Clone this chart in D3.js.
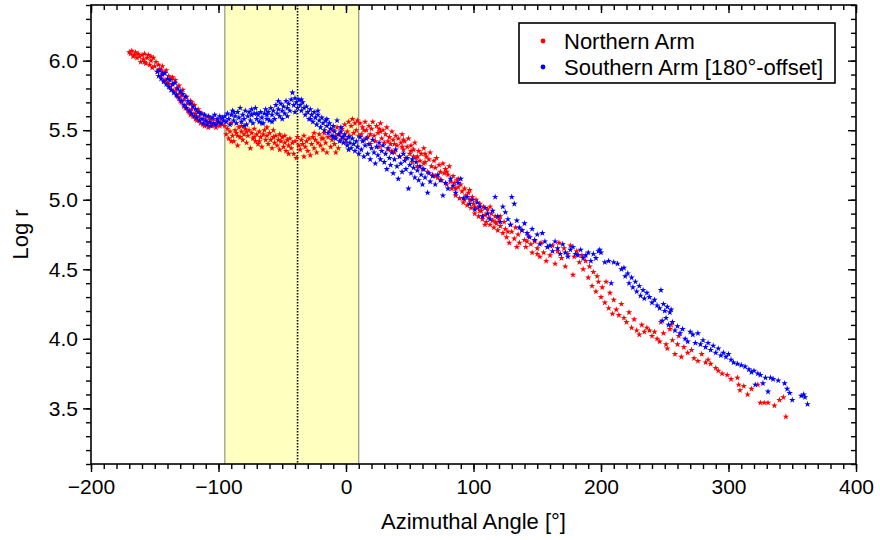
<!DOCTYPE html>
<html>
<head>
<meta charset="utf-8">
<script src="https://cdn.jsdelivr.net/npm/d3@7"></script>
<style>
  html, body { margin: 0; padding: 0; background: #fff; }
  svg { display: block; }
  text { font-family: "Liberation Sans", Arial, Helvetica, sans-serif; fill: #000; }
</style>
</head>
<body>
<svg id="chart" width="880" height="540"></svg>
<script>
// ---------------- DATA ----------------
const seriesNames = ["Northern Arm", "Southern Arm [180°-offset]"];
const seriesColors = ["#ff0000", "#0000ff"];
const xTicks = [-200, -100, 0, 100, 200, 300, 400];
const yTicks = [3.5, 4.0, 4.5, 5.0, 5.5, 6.0];
const xDomain = [-200, 400];
const yDomain = [3.1, 6.4];
const bandRange = [-95, 10];
const dottedLineX = -38;

// Northern Arm: [azimuthal angle, log r]
const northern = [
[-170,6.06],[-169,6.05],[-168,6.07],[-166,6.04],[-165,6.06],[-164,6.02],[-163,6.05],[-162,6.03],[-161,5.99],[-160,6.04],
[-159,6.01],[-158,6.05],[-157,5.98],[-156,6.02],[-155,6.04],[-154,5.97],[-153,6.00],[-152,5.95],[-151,6.02],[-150,5.96],
[-149,5.99],[-148,5.92],[-147,5.97],[-146,5.94],[-145,5.89],[-144,5.96],[-143,5.91],[-142,5.86],[-141,5.93],[-140,5.84],
[-139,5.89],[-138,5.81],[-137,5.87],[-136,5.83],[-135,5.78],[-134,5.86],[-133,5.80],[-132,5.74],[-131,5.82],[-130,5.77],
[-129,5.70],[-128,5.79],[-127,5.72],[-126,5.66],[-125,5.74],[-124,5.69],[-123,5.63],[-122,5.71],[-121,5.65],[-120,5.60],
[-119,5.68],[-118,5.62],[-117,5.57],[-116,5.65],[-115,5.60],[-114,5.55],[-113,5.62],[-112,5.58],[-111,5.53],[-110,5.60],
[-109,5.56],[-108,5.52],[-107,5.59],[-106,5.55],[-105,5.53],[-104,5.58],[-103,5.54],[-102,5.52],[-101,5.57],[-100,5.55],
[-99,5.53],[-98,5.58],[-97,5.54],
[-167,6.03],[-158,5.99],[-153,6.03],[-147,5.93],[-143,5.85],[-139,5.83],[-136,5.88],[-133,5.76],[-130,5.71],[-127,5.67],
[-124,5.64],[-121,5.70],[-118,5.58],[-115,5.63],[-144,5.92],[-137,5.79],[-129,5.75],[-122,5.61],[-112,5.54],[-106,5.58],
[-95,5.53],[-94,5.47],[-93,5.51],[-92,5.44],[-91,5.49],[-90,5.55],[-89,5.46],[-88,5.42],[-87,5.50],[-86,5.48],
[-85,5.39],[-84,5.52],[-83,5.45],[-82,5.49],[-81,5.43],[-80,5.47],[-79,5.51],[-78,5.41],[-77,5.46],[-76,5.50],
[-75,5.37],[-74,5.48],[-73,5.44],[-72,5.51],[-71,5.42],[-70,5.47],[-69,5.40],[-68,5.49],[-67,5.45],[-66,5.38],
[-65,5.47],[-64,5.50],[-63,5.43],[-62,5.46],[-61,5.40],[-60,5.48],[-59,5.43],[-58,5.37],[-57,5.45],[-56,5.41],
[-55,5.46],[-54,5.39],[-53,5.43],[-52,5.36],[-51,5.42],[-50,5.45],[-49,5.38],[-48,5.41],[-47,5.35],[-46,5.43],
[-45,5.39],[-44,5.44],[-43,5.37],[-42,5.41],[-41,5.33],[-40,5.42],[-39,5.30],[-38,5.45],[-37,5.39],[-36,5.36],
[-35,5.43],[-34,5.40],[-33,5.46],[-32,5.38],[-31,5.42],[-30,5.35],[-29,5.44],[-28,5.32],[-27,5.40],[-26,5.45],
[-25,5.37],[-24,5.43],[-23,5.34],[-22,5.41],[-21,5.47],[-20,5.39],[-19,5.44],[-18,5.36],[-17,5.48],[-16,5.41],
[-15,5.34],[-14,5.45],[-13,5.49],[-12,5.38],[-11,5.43],[-10,5.50],[-9,5.40],[-8,5.46],[-7,5.52],[-6,5.37],
[-5,5.47],[-4,5.43],[-3,5.51],[-2,5.45],[-1,5.54],[0,5.41],[1,5.49],[2,5.56],[3,5.46],[4,5.53],
[5,5.58],[6,5.48],[7,5.55],[8,5.50],[9,5.57],[10,5.46],
[-90,5.42],[-82,5.53],[-72,5.45],[-62,5.52],[-52,5.47],[-45,5.33],[-33,5.31],[-25,5.48],[-18,5.44],[-8,5.34],
[-85,5.46],[-78,5.49],[-68,5.42],[-57,5.50],[-48,5.46],
[11,5.55],[12,5.47],[13,5.52],[14,5.43],[15,5.56],[16,5.50],[17,5.45],[18,5.53],[19,5.40],[20,5.51],
[21,5.56],[22,5.46],[23,5.42],[24,5.53],[25,5.48],[26,5.38],[27,5.55],[28,5.44],[29,5.50],[30,5.41],
[31,5.47],[32,5.52],[33,5.36],[34,5.45],[35,5.40],[36,5.49],[37,5.43],[38,5.34],[39,5.46],[40,5.39],
[41,5.44],[42,5.31],[43,5.41],[44,5.47],[45,5.36],[46,5.42],[47,5.30],[48,5.38],[49,5.44],[50,5.33],
[51,5.39],[52,5.27],[53,5.36],[54,5.41],[55,5.30],[56,5.24],[57,5.35],[58,5.28],[59,5.33],[60,5.22],
[61,5.37],[62,5.27],[63,5.31],[64,5.20],[65,5.29],[66,5.34],[67,5.24],[68,5.18],[69,5.28],[70,5.23],
[71,5.30],[72,5.16],[73,5.25],[74,5.20],[75,5.14],[76,5.26],[77,5.19],[78,5.22],[79,5.11],[80,5.18],
[81,5.24],[82,5.13],[83,5.08],[84,5.17],[85,5.12],[86,5.03],[87,5.14],[88,5.09],[89,5.01],[90,5.11],
[91,5.06],[92,4.98],[93,5.08],[94,5.03],[95,4.96],[96,5.05],[97,5.00],[98,4.94],[99,5.02],[100,4.97],
[101,4.90],[102,5.00],[103,4.94],[104,4.88],[105,4.97],[106,4.92],[107,4.86],[108,4.95],[109,4.89],[110,4.84],
[111,4.93],[112,4.87],[113,4.82],[114,4.90],[115,4.85],[116,4.80],[117,4.88],[118,4.83],[119,4.78],[120,4.86],
[121,4.81],[123,4.76],[124,4.84],[125,4.79],[126,4.73],[128,4.69],[129,4.82],[130,4.77],[132,4.72],[133,4.80],
[135,4.75],[136,4.69],[138,4.78],[140,4.71],[141,4.66],[143,4.74],[145,4.68],[146,4.62],[148,4.70],[150,4.65],
[152,4.59],[153,4.69],[155,4.62],[157,4.56],[158,4.66],[160,4.60],[162,4.67],[164,4.54],[166,4.63],[167,4.69],
[169,4.58],[171,4.65],[172,4.52],[174,4.61],[176,4.67],[178,4.46],[179,4.59],[181,4.63],[183,4.55],[185,4.60],
[186,4.50],[188,4.56],[190,4.44],[191,4.52],[193,4.38],[194,4.48],[196,4.34],[197,4.45],[198,4.41],[200,4.30],
[201,4.37],[203,4.26],[204,4.41],[206,4.22],[207,4.33],[209,4.18],[210,4.28],[212,4.21],[214,4.17],[216,4.25],
[218,4.15],[220,4.12],[222,4.19],[224,4.08],[226,4.14],[228,4.06],[230,4.03],[232,4.10],[234,4.05],[236,4.08],
[238,4.06],[240,4.02],[242,4.05],[244,4.00],[246,3.98],[247,4.12],[249,4.04],[251,3.96],[252,3.93],[254,4.07],
[255,4.10],[256,3.99],[258,3.89],[260,3.96],[261,4.02],[263,3.87],[265,3.94],[268,3.90],[271,3.92],[273,3.86],
[276,3.84],[279,3.89],[282,3.83],[284,3.85],[286,3.82],[290,3.79],[292,3.77],[295,3.75],[299,3.74],[302,3.71],
[307,3.72],[308,3.67],[309,3.63],[312,3.66],[315,3.60],[318,3.64],[323,3.67],[325,3.54],[328,3.54],[331,3.54],
[336,3.52],[340,3.56],[343,3.58],[345,3.44],
[14,5.50],[19,5.47],[26,5.51],[33,5.42],[38,5.40],[44,5.38],[51,5.35],[56,5.31],[61,5.26],[27,5.49],
[36,5.35],[45,5.43],[53,5.31],[62,5.33],[70,5.17],[79,5.20],[88,5.15],[97,5.07],[105,4.92],[113,4.95],
[121,4.88],[86,5.08],[93,5.00],[101,4.95],[109,4.82],[117,4.84],[127,4.77],[134,4.66],[142,4.70],[150,4.61]
];

// Southern Arm (180° offset): [azimuthal angle, log r]
const southern = [
[-148,5.92],[-147,5.89],[-146,5.93],[-145,5.87],[-144,5.90],[-143,5.85],[-142,5.91],[-141,5.83],[-140,5.87],[-139,5.81],
[-138,5.86],[-137,5.79],[-136,5.83],[-135,5.77],[-134,5.84],[-133,5.75],[-132,5.80],[-131,5.73],[-130,5.78],[-129,5.71],
[-128,5.76],[-127,5.68],[-126,5.74],[-125,5.66],[-124,5.71],[-123,5.64],[-122,5.69],[-121,5.62],[-120,5.67],[-119,5.60],
[-118,5.65],[-117,5.59],[-116,5.63],[-115,5.57],[-114,5.62],[-113,5.58],[-112,5.55],[-111,5.61],[-110,5.57],[-109,5.54],
[-108,5.60],[-107,5.56],[-106,5.53],[-105,5.59],[-104,5.55],[-103,5.61],[-102,5.54],[-101,5.58],[-100,5.56],[-99,5.60],
[-98,5.55],[-97,5.59],[-96,5.57],
[-95,5.60],[-94,5.56],[-93,5.62],[-92,5.58],[-91,5.54],[-90,5.61],[-89,5.64],[-88,5.57],[-87,5.60],[-86,5.55],
[-85,5.63],[-84,5.59],[-83,5.66],[-82,5.56],[-81,5.61],[-80,5.58],[-79,5.64],[-78,5.54],[-77,5.60],[-76,5.63],
[-75,5.57],[-74,5.61],[-73,5.55],[-72,5.62],[-71,5.66],[-70,5.58],[-69,5.61],[-68,5.56],[-67,5.63],[-66,5.59],
[-65,5.55],[-64,5.62],[-63,5.65],[-62,5.58],[-61,5.63],[-60,5.57],[-59,5.66],[-58,5.61],[-57,5.64],[-56,5.58],
[-55,5.68],[-54,5.62],[-53,5.65],[-52,5.60],[-51,5.69],[-50,5.64],[-49,5.67],[-48,5.62],[-47,5.71],[-46,5.66],
[-45,5.69],[-44,5.64],[-43,5.72],[-42,5.77],[-41,5.68],[-40,5.73],[-39,5.70],[-38,5.66],[-37,5.72],[-36,5.68],
[-35,5.64],[-34,5.70],[-33,5.66],[-32,5.61],[-31,5.67],[-30,5.63],[-29,5.58],[-28,5.65],[-27,5.61],[-26,5.56],
[-25,5.63],[-24,5.59],[-23,5.54],[-22,5.61],[-21,5.57],[-20,5.52],[-19,5.59],[-18,5.55],[-17,5.50],[-16,5.57],
[-15,5.53],[-14,5.48],[-13,5.55],[-12,5.51],[-11,5.46],[-10,5.53],[-9,5.49],[-8,5.44],[-7,5.57],[-6,5.47],
[-5,5.42],[-4,5.49],[-3,5.45],[-2,5.41],[-1,5.47],[0,5.43],[1,5.39],[2,5.45],[3,5.41],[4,5.37],
[5,5.44],[6,5.40],[7,5.35],[8,5.42],[9,5.38],[10,5.33],
[-88,5.63],[-80,5.53],[-74,5.65],[-66,5.55],[-58,5.56],[-53,5.71],[-46,5.60],[-40,5.63],[-35,5.72],[-28,5.58],
[-22,5.64],[-15,5.58],[-10,5.45],[-4,5.52],[2,5.36],[-70,5.62],[-62,5.61],[-50,5.58],
[11,5.45],[12,5.36],[13,5.42],[14,5.31],[15,5.39],[16,5.44],[17,5.33],[18,5.40],[19,5.29],[20,5.37],
[21,5.43],[22,5.34],[23,5.26],[24,5.38],[25,5.32],[26,5.41],[27,5.29],[28,5.35],[29,5.39],[30,5.27],
[31,5.33],[32,5.22],[33,5.37],[34,5.30],[35,5.25],[36,5.34],[37,5.19],[38,5.29],[39,5.36],[40,5.24],
[41,5.15],[42,5.31],[43,5.26],[44,5.20],[45,5.33],[46,5.28],[47,5.22],[48,5.30],[49,5.08],[50,5.25],
[51,5.19],[52,5.29],[53,5.23],[54,5.16],[55,5.27],[56,5.21],[57,5.14],[58,5.24],[59,5.18],[60,5.11],
[61,5.22],[62,5.16],[64,5.05],[65,5.19],[66,5.13],[68,5.17],[70,5.11],[72,5.18],[74,5.14],[76,5.03],
[78,5.12],[80,5.08],[82,5.15],[84,5.10],[86,5.05],[88,5.12],[90,5.15],[92,5.01],[95,5.02],[97,4.97],
[99,5.00],[101,4.93],[103,4.98],[105,4.95],[107,4.88],[109,4.94],[111,4.90],[113,4.86],[115,4.92],[117,5.02],
[119,4.88],[121,4.84],[123,4.95],[125,4.91],[127,4.86],[129,4.82],[130,5.02],[132,4.97],[134,4.85],[136,4.80],
[138,4.78],[140,4.83],[142,4.76],[144,4.73],[146,4.79],[148,4.71],[150,4.75],[152,4.68],[154,4.76],[156,4.70],
[158,4.66],[160,4.67],[162,4.63],[164,4.70],[166,4.65],[168,4.61],[170,4.68],[172,4.62],[174,4.59],[176,4.64],
[178,4.66],[180,4.61],[182,4.60],[184,4.64],[186,4.58],[188,4.60],[190,4.62],[192,4.56],[194,4.61],[196,4.58],
[198,4.63],[199,4.64],[200,4.62],
[203,4.55],[206,4.56],[208,4.40],[210,4.55],[213,4.54],[216,4.50],[218,4.51],[219,4.45],[221,4.47],[222,4.40],
[224,4.44],[225,4.37],[227,4.41],[228,4.34],[230,4.38],[231,4.31],[233,4.35],[234,4.29],[236,4.33],[238,4.30],
[240,4.26],[242,4.28],[244,4.24],[246,4.22],[247,4.35],[249,4.25],[250,4.20],[252,4.23],[254,4.19],[255,4.21],
[248,4.13],[251,4.15],[253,4.10],[256,4.12],[258,4.06],[260,4.09],[262,4.04],[264,4.07],[266,4.00],[268,3.98],
[270,4.05],[272,4.03],[274,3.97],[276,4.04],[278,3.96],[280,3.99],[282,3.94],[284,3.97],[286,3.92],[288,3.95],
[290,3.90],[292,3.93],[294,3.88],[296,3.90],[298,3.87],[300,3.89],[302,3.85],[304,3.83],[307,3.82],[310,3.81],
[313,3.80],[316,3.78],[318,3.76],[320,3.77],[321,3.67],[323,3.75],[325,3.74],[327,3.68],[329,3.72],[331,3.62],
[333,3.72],[335,3.71],[339,3.70],[344,3.68],[346,3.64],[348,3.61],[350,3.56],[357,3.59],[359,3.60],[362,3.53],
[360,3.58]
];

// ---------------- CHART ----------------
const svg = d3.select("#chart");
const margin = { left: 91, right: 24, top: 5, bottom: 76 };
const W = 880, H = 540;
const x = d3.scaleLinear().domain(xDomain).range([margin.left, W - margin.right]);
const y = d3.scaleLinear().domain(yDomain).range([H - margin.bottom, margin.top]);
const x0 = x.range()[0], x1 = x.range()[1], y0 = y.range()[1], y1 = y.range()[0];

// shaded band
svg.append("rect")
  .attr("x", x(bandRange[0])).attr("y", y0)
  .attr("width", x(bandRange[1]) - x(bandRange[0])).attr("height", y1 - y0)
  .attr("fill", "#ffffc0");
svg.selectAll("line.band").data(bandRange).join("line")
  .attr("class", "band")
  .attr("x1", d => x(d)).attr("x2", d => x(d)).attr("y1", y0).attr("y2", y1)
  .attr("stroke", "#7d7d6a").attr("stroke-width", 1);
svg.append("line")
  .attr("x1", x(dottedLineX)).attr("x2", x(dottedLineX)).attr("y1", y0).attr("y2", y1)
  .attr("stroke", "#000").attr("stroke-width", 1.6).attr("stroke-dasharray", "1.6,1.4");

// points
const star = d3.symbol().type(d3.symbolStar).size(13);
[northern, southern].forEach((data, i) => {
  svg.append("g").selectAll("path").data(data).join("path")
    .attr("d", star)
    .attr("transform", d => `translate(${x(d[0])},${y(d[1])})`)
    .attr("fill", seriesColors[i]);
});

// axes
const xMinor = d3.range(xDomain[0], xDomain[1] + 0.001, 10);
const yMinor = d3.range(31, 65).map(v => v / 10);
function styleAxis(g) {
  g.select(".domain").remove();
  g.selectAll(".tick line").attr("stroke", "#000").attr("stroke-width", 1.4);
  g.selectAll("text").style("font-size", "21px").attr("fill", "#000");
}
const fmtX = d3.format("d");
const fmtY = d3.format(".1f");
// bottom
svg.append("g").attr("transform", `translate(0,${y1})`)
  .call(d3.axisBottom(x).tickValues(xMinor).tickSize(5).tickFormat(""))
  .call(styleAxis);
svg.append("g").attr("transform", `translate(0,${y1})`)
  .call(d3.axisBottom(x).tickValues(xTicks).tickSize(8).tickPadding(7).tickFormat(d => fmtX(d).replace("-", "\u2212")))
  .call(styleAxis);
// top (ticks point inward)
svg.append("g").attr("transform", `translate(0,${y0})`)
  .call(d3.axisBottom(x).tickValues(xMinor).tickSize(5).tickFormat(""))
  .call(styleAxis);
svg.append("g").attr("transform", `translate(0,${y0})`)
  .call(d3.axisBottom(x).tickValues(xTicks).tickSize(8).tickFormat(""))
  .call(styleAxis);
// left
svg.append("g").attr("transform", `translate(${x0},0)`)
  .call(d3.axisLeft(y).tickValues(yMinor).tickSize(5).tickFormat(""))
  .call(styleAxis);
svg.append("g").attr("transform", `translate(${x0},0)`)
  .call(d3.axisLeft(y).tickValues(yTicks).tickSize(8).tickPadding(5).tickFormat(fmtY))
  .call(styleAxis);
// right (ticks point inward)
svg.append("g").attr("transform", `translate(${x1},0)`)
  .call(d3.axisLeft(y).tickValues(yMinor).tickSize(5).tickFormat(""))
  .call(styleAxis);
svg.append("g").attr("transform", `translate(${x1},0)`)
  .call(d3.axisLeft(y).tickValues(yTicks).tickSize(8).tickFormat(""))
  .call(styleAxis);

// frame
svg.append("rect")
  .attr("x", x0).attr("y", y0).attr("width", x1 - x0).attr("height", y1 - y0)
  .attr("fill", "none").attr("stroke", "#000").attr("stroke-width", 1.6);

// axis titles
svg.append("text")
  .attr("x", (x0 + x1) / 2).attr("y", 529)
  .attr("text-anchor", "middle").style("font-size", "22px")
  .text("Azimuthal Angle [°]");
svg.append("text")
  .attr("transform", `translate(28,${(y0 + y1) / 2}) rotate(-90)`)
  .attr("text-anchor", "middle").style("font-size", "22px")
  .text("Log r");

// legend
const lg = svg.append("g");
lg.append("rect").attr("x", 519).attr("y", 23).attr("width", 316).attr("height", 60)
  .attr("fill", "#fff").attr("stroke", "#000").attr("stroke-width", 1.6);
seriesNames.forEach((name, i) => {
  const cy = 41 + i * 26;
  lg.append("circle").attr("cx", 543).attr("cy", cy).attr("r", 2.4).attr("fill", seriesColors[i]);
  lg.append("text").attr("x", 564).attr("y", cy).attr("dy", "0.35em")
    .style("font-size", "22px").text(name);
});
</script>
</body>
</html>
